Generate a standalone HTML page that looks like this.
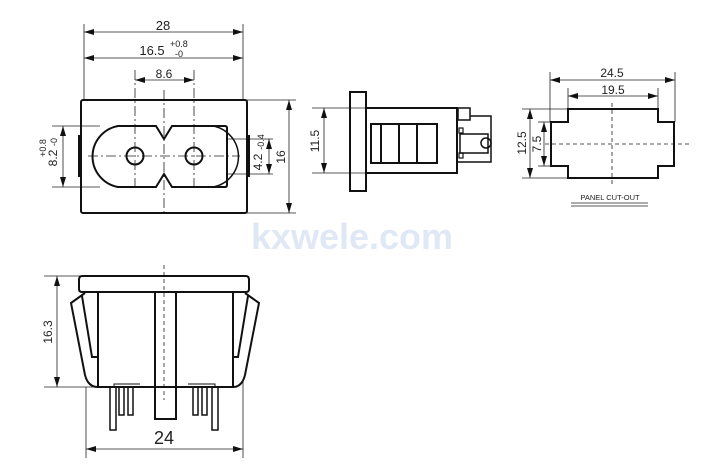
<!DOCTYPE html>
<html><head><meta charset="utf-8"><style>
html,body{margin:0;padding:0;background:#fff;}
svg{display:block;}
text{font-family:"Liberation Sans",Arial,sans-serif;fill:#222;}
</style></head><body>
<svg width="714" height="475" viewBox="0 0 714 475" xmlns="http://www.w3.org/2000/svg">
<defs>
<marker id="a" viewBox="0 0 10 6" refX="10" refY="3" markerWidth="10" markerHeight="6" orient="auto-start-reverse" markerUnits="userSpaceOnUse"><path d="M0,0 L10,3 L0,6z" fill="#111"/></marker>
</defs>
<text x="352" y="249" font-size="36" font-weight="bold" text-anchor="middle" style="fill:#dfe8f4">kxwele.com</text>

<g stroke="#222" stroke-width="0.8" fill="none">
<!-- front view extension lines -->
<line x1="84" y1="24" x2="84" y2="100"/><line x1="243" y1="24" x2="243" y2="100"/>
<line x1="135" y1="70" x2="135" y2="190" stroke-dasharray="10,3,2,3"/><line x1="194" y1="70" x2="194" y2="190" stroke-dasharray="10,3,2,3"/>
<line x1="164" y1="90" x2="164" y2="212" stroke-dasharray="10,3,2,3"/>
<line x1="88" y1="156" x2="240" y2="156" stroke-dasharray="10,3,2,3"/>
<line x1="52" y1="126" x2="100" y2="126"/><line x1="52" y1="187" x2="100" y2="187"/>
<line x1="227" y1="139" x2="273" y2="139"/><line x1="227" y1="174" x2="273" y2="174"/>
<line x1="247" y1="100" x2="296" y2="100"/><line x1="247" y1="213" x2="296" y2="213"/>
<!-- dims -->
<line x1="84" y1="32" x2="243" y2="32" marker-start="url(#a)" marker-end="url(#a)"/>
<line x1="84" y1="58" x2="243" y2="58" marker-start="url(#a)" marker-end="url(#a)"/>
<line x1="135" y1="80" x2="194" y2="80" marker-start="url(#a)" marker-end="url(#a)"/>
<line x1="63" y1="126" x2="63" y2="187" marker-start="url(#a)" marker-end="url(#a)"/>
<line x1="269" y1="139" x2="269" y2="174" marker-start="url(#a)" marker-end="url(#a)"/>
<line x1="289" y1="100" x2="289" y2="213" marker-start="url(#a)" marker-end="url(#a)"/>
</g>
<g stroke="#111" stroke-width="2" fill="none">
<rect x="81" y="100" width="166" height="113" rx="2"/>
<path d="M118,126 L156,126 L164,139 L172,126 L225,126 Q227,126 227,128 L227,185 Q227,187 225,187 L172,187 L164,174 L156,187 L118,187 A31,31 0 0 1 118,126 Z"/>
<path d="M213,126 A31,31 0 0 1 213,187" stroke-width="1.5"/>
<circle cx="135" cy="156" r="8.5"/><circle cx="194" cy="156" r="8.5"/>
</g>
<rect x="78" y="135" width="3" height="42" fill="#111"/><rect x="247" y="135" width="3" height="42" fill="#111"/>
<text x="163" y="30" font-size="13" text-anchor="middle">28</text>
<text x="152" y="55" font-size="13" text-anchor="middle">16.5</text>
<text x="170" y="47" font-size="9">+0.8</text><text x="175" y="57" font-size="9">-0</text>
<text x="164" y="78" font-size="12" text-anchor="middle">8.6</text>
<text transform="translate(57,158) rotate(-90)" font-size="12" text-anchor="middle">8.2</text>
<text transform="translate(46,148) rotate(-90)" font-size="9" text-anchor="middle">+0.8</text>
<text transform="translate(57,142) rotate(-90)" font-size="9" text-anchor="middle">-0</text>
<text transform="translate(262,162) rotate(-90)" font-size="12" text-anchor="middle">4.2</text>
<text transform="translate(264,142) rotate(-90)" font-size="9" text-anchor="middle">-0.4</text>
<text transform="translate(285,157) rotate(-90)" font-size="12" text-anchor="middle">16</text>

<!-- side view -->
<g stroke="#222" stroke-width="0.8" fill="none">
<line x1="312" y1="108" x2="366" y2="108"/><line x1="312" y1="173" x2="366" y2="173"/>
<line x1="324" y1="108" x2="324" y2="173" marker-start="url(#a)" marker-end="url(#a)"/>
</g>
<text transform="translate(319,141) rotate(-90)" font-size="12" text-anchor="middle">11.5</text>
<g stroke="#111" stroke-width="2" fill="none">
<rect x="350" y="92" width="16" height="99"/>
<rect x="366" y="108" width="91" height="65"/>
<rect x="371" y="124" width="66" height="39"/>
<line x1="381" y1="124" x2="381" y2="163"/><line x1="399" y1="124" x2="399" y2="163"/><line x1="417" y1="124" x2="417" y2="163"/>
<rect x="458" y="108" width="12" height="12" stroke-width="1.5"/>
<path d="M470,116 L491,116 L491,162 L458,162" stroke-width="1.5"/>
<rect x="460" y="134" width="28" height="19" stroke-width="1.5"/>
<circle cx="486" cy="143" r="5" stroke-width="1.5"/>
<rect x="459" y="128" width="4" height="5" stroke-width="1.2"/><rect x="459" y="153" width="4" height="5" stroke-width="1.2"/>
</g>

<!-- panel cutout -->
<g stroke="#222" stroke-width="0.8" fill="none">
<line x1="550" y1="72" x2="550" y2="122"/><line x1="675" y1="72" x2="675" y2="122"/>
<line x1="568" y1="88" x2="568" y2="109"/><line x1="658" y1="88" x2="658" y2="109"/>
<line x1="550" y1="80" x2="675" y2="80" marker-start="url(#a)" marker-end="url(#a)"/>
<line x1="568" y1="96" x2="658" y2="96" marker-start="url(#a)" marker-end="url(#a)"/>
<line x1="522" y1="109" x2="568" y2="109"/><line x1="522" y1="178" x2="568" y2="178"/>
<line x1="538" y1="122" x2="551" y2="122"/><line x1="538" y1="166" x2="551" y2="166"/>
<line x1="530" y1="109" x2="530" y2="178" marker-start="url(#a)" marker-end="url(#a)"/>
<line x1="544" y1="122" x2="544" y2="166" marker-start="url(#a)" marker-end="url(#a)"/>
<line x1="612" y1="103" x2="612" y2="184" stroke-dasharray="4,3"/>
<line x1="545" y1="144" x2="692" y2="144" stroke-dasharray="4,3"/>
<line x1="571" y1="203" x2="648" y2="203"/><line x1="571" y1="206" x2="648" y2="206"/>
</g>
<path d="M568,109 L658,109 L658,122 L674,122 L674,166 L658,166 L658,178 L568,178 L568,166 L551,166 L551,122 L568,122 Z" stroke="#111" stroke-width="2" fill="none"/>
<text x="612" y="77" font-size="12" text-anchor="middle">24.5</text>
<text x="613" y="94" font-size="12" text-anchor="middle">19.5</text>
<text transform="translate(526,143) rotate(-90)" font-size="12" text-anchor="middle">12.5</text>
<text transform="translate(541,144) rotate(-90)" font-size="12" text-anchor="middle">7.5</text>
<text x="610" y="200" font-size="7.5" text-anchor="middle">PANEL CUT-OUT</text>

<!-- bottom view -->
<g stroke="#222" stroke-width="0.8" fill="none">
<line x1="44" y1="276" x2="82" y2="276"/><line x1="44" y1="387" x2="98" y2="387"/>
<line x1="57" y1="276" x2="57" y2="387" marker-start="url(#a)" marker-end="url(#a)"/>
<line x1="86" y1="387" x2="86" y2="458"/><line x1="243" y1="380" x2="243" y2="458"/>
<line x1="86" y1="449" x2="243" y2="449" marker-start="url(#a)" marker-end="url(#a)"/>
<line x1="164" y1="265" x2="164" y2="400" stroke-dasharray="4,3"/>
</g>
<text transform="translate(52,332) rotate(-90)" font-size="12" text-anchor="middle">16.3</text>
<text x="164" y="444" font-size="18" text-anchor="middle">24</text>
<g stroke="#111" stroke-width="2" fill="none">
<path d="M82,276 L246,276 Q249,276 249,280 L249,289 Q249,292 246,292 L82,292 Q79,292 79,289 L79,280 Q79,276 82,276 Z"/>
<rect x="98" y="292" width="135" height="95"/>
<rect x="155" y="292" width="21" height="127"/>
<path d="M85,293 L71,303 L85,375 Q88,387 98,387"/>
<path d="M82,296 L92,357 L98,357"/>
<path d="M245,293 L259,303 L245,375 Q242,387 233,387"/>
<path d="M248,296 L238,357 L233,357"/>
<path d="M110,387 L110,430 L116,430 L116,387" stroke-width="1.5"/>
<path d="M119,387 L119,415 L124,415 L124,387 M128,387 L128,415 L133,415 L133,387" stroke-width="1.5"/>
<path d="M114,387 L114,384 L140,384" stroke-width="1"/>
<path d="M193,387 L193,415 L198,415 L198,387 M202,387 L202,415 L207,415 L207,387" stroke-width="1.5"/>
<path d="M212,387 L212,430 L218,430 L218,387" stroke-width="1.5"/>
<path d="M188,384 L215,384 L215,387" stroke-width="1"/>
</g>
</svg>
</body></html>
